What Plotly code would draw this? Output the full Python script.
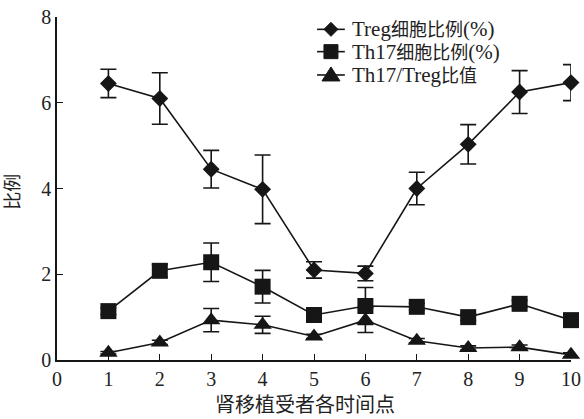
import plotly.graph_objects as go

time_points = [1, 2, 3, 4, 5, 6, 7, 8, 9, 10]
treg = [6.45, 6.1, 4.45, 3.98, 2.1, 2.02, 4.0, 5.03, 6.25, 6.47]
treg_err = [0.33, 0.6, 0.44, 0.8, 0.19, 0.17, 0.38, 0.46, 0.5, 0.42]
th17 = [1.14, 2.08, 2.28, 1.71, 1.05, 1.26, 1.24, 1.0, 1.31, 0.93]
th17_err = [0.08, 0.15, 0.45, 0.38, 0.08, 0.43, 0.08, 0.08, 0.08, 0.08]
ratio = [0.17, 0.41, 0.93, 0.82, 0.55, 0.93, 0.45, 0.28, 0.30, 0.12]
ratio_err = [0.03, 0.05, 0.27, 0.2, 0.05, 0.29, 0.05, 0.05, 0.05, 0.05]

names = ["Treg细胞比例(%)", "Th17细胞比例(%)", "Th17/Treg比值"]
legend_labels = [
    "Treg<span style='font-size:18px'>细胞比例</span>(%)",
    "Th17<span style='font-size:18px'>细胞比例</span>(%)",
    "Th17/Treg<span style='font-size:18px'>比值</span>",
]
x_ticks = [0, 1, 2, 3, 4, 5, 6, 7, 8, 9, 10]
y_ticks = [0, 2, 4, 6, 8]

font_family = "Liberation Serif, Noto Sans CJK SC, serif"
col = "#161616"

fig = go.Figure()
series = [
    (treg, treg_err, names[0], "diamond", 13),
    (th17, th17_err, names[1], "square", 16),
    (ratio, ratio_err, names[2], "triangle-up", 16),
]
for vals, errs, nm, sym, sz in series:
    fig.add_trace(go.Scatter(
        x=time_points, y=vals, name=nm, mode="lines+markers",
        line=dict(color=col, width=1.6),
        marker=dict(symbol=sym, size=sz, color=col),
        error_y=dict(type="data", array=errs, visible=True, color=col,
                     thickness=1.6, width=8),
        cliponaxis=False, showlegend=False,
    ))

# manual legend (compact row spacing like the reference)
leg_rows = [0.964, 0.899, 0.831]
leg_paths = [
    "M-7,0 L0,7 L7,0 L0,-7 Z",
    "M-7,-7 H7 V7 H-7 Z",
    "M-9,-6 H9 L0,8 Z",
]
shapes = []
annotations = []
for yy, pth, lab in zip(leg_rows, leg_paths, legend_labels):
    shapes.append(dict(type="line", xref="paper", yref="paper", x0=0.506, x1=0.560,
                       y0=yy, y1=yy, line=dict(color=col, width=1.6)))
    shapes.append(dict(type="path", xref="paper", yref="paper",
                       xsizemode="pixel", ysizemode="pixel",
                       xanchor=0.533, yanchor=yy, path=pth,
                       fillcolor=col, line=dict(color=col, width=1)))
    annotations.append(dict(text=lab, xref="paper", yref="paper", x=0.570, y=yy,
                            xanchor="left", yanchor="middle", showarrow=False,
                            font=dict(size=21)))

annotations.append(dict(text="肾移植受者各时间点", xref="paper", yref="paper",
                        x=0.483, y=-0.131, xanchor="center", yanchor="middle",
                        showarrow=False, font=dict(size=20)))
annotations.append(dict(text="比例", xref="paper", yref="paper",
                        x=-0.086, y=0.49, xanchor="center", yanchor="middle",
                        textangle=-90, showarrow=False, font=dict(size=18)))

fig.update_layout(
    width=584, height=419,
    margin=dict(l=57, r=13, t=17, b=59, autoexpand=False),
    paper_bgcolor="white", plot_bgcolor="white",
    font=dict(family=font_family, size=20, color="#222"),
    showlegend=False,
    shapes=shapes,
    annotations=annotations,
    xaxis=dict(range=[0, 10], tickvals=x_ticks, ticktext=[str(v) for v in x_ticks],
               showline=True, linecolor=col, linewidth=1.5, ticks="inside",
               ticklen=6, tickcolor=col, showgrid=False, zeroline=False,
               automargin=False),
    yaxis=dict(range=[0, 8], tickvals=y_ticks, ticktext=[str(v) for v in y_ticks],
               showline=True, linecolor=col, linewidth=1.5, ticks="inside",
               ticklen=6, tickcolor=col, showgrid=False, zeroline=False,
               automargin=False),
)

fig.write_html("out.html", config={"displayModeBar": False},
               post_script="document.body.style.margin='0';")
